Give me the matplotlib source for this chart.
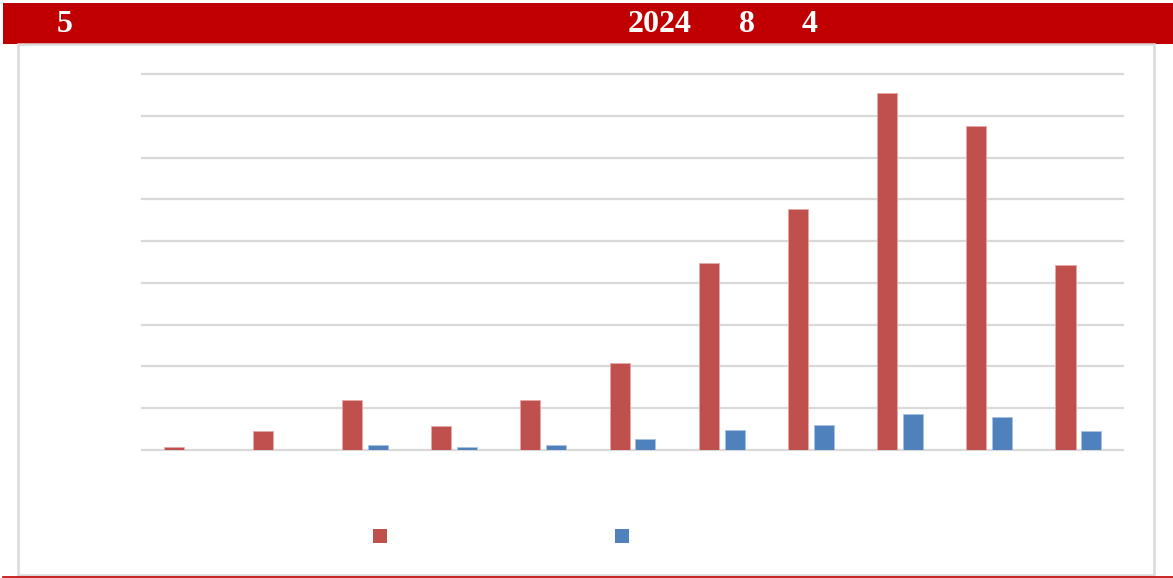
import matplotlib.pyplot as plt
import matplotlib.patches as patches
import numpy as np

# 数据
categories = list(range(1, 12))
red_values = [0.07, 0.45, 1.2, 0.57, 1.2, 2.08, 4.47, 5.77, 8.54, 7.75, 4.43]
blue_values = [0.0, 0.0, 0.12, 0.07, 0.12, 0.26, 0.48, 0.6, 0.86, 0.79, 0.45]
title_parts = ['5', '2024', '8', '4']
title_x = [65, 660, 747, 810]  # 像素位置

W, H = 1173, 578
fig = plt.figure(figsize=(W / 100, H / 100), dpi=100)
fig.patch.set_facecolor('white')

def px(x, y):
    return x / W, 1 - y / H

# 顶部红色标题栏
x0, y0 = px(3, 44)
fig.patches.append(patches.Rectangle((x0, y0), 1 - x0, 41 / H, transform=fig.transFigure,
                                     facecolor='#C00000', edgecolor='none', zorder=0))
for t, x in zip(title_parts, title_x):
    fig.text(x / W, 1 - 25 / H, t, color='white', fontsize=23, fontweight='bold',
             family='Liberation Serif', ha='center', va='center')

# 图表外框
bx, by = px(18, 575)
fig.patches.append(patches.Rectangle((bx, by), (1154 - 18) / W, (575 - 44) / H,
                                     transform=fig.transFigure, facecolor='none',
                                     edgecolor='#D9D9D9', linewidth=1.8, zorder=1))
# 底部红线
fig.lines.append(plt.Line2D([3 / W, 1], [1 - 577 / H] * 2, transform=fig.transFigure,
                            color='#C00000', linewidth=1.2))

# 柱状图
ax = fig.add_axes([142 / W, (H - 450) / H, 981 / W, 376 / H])
x = np.arange(len(categories))
w = 0.225
ax.bar(x - 0.145, red_values, w, color='#C0504D', edgecolor='#E6A9A7', linewidth=0.6, zorder=3)
ax.bar(x + 0.145, blue_values, w, color='#4F81BD', edgecolor='#A9C1E0', linewidth=0.6, zorder=3)
ax.set_xlim(-0.5, len(categories) - 0.5)
ax.set_ylim(0, 9)
ax.set_yticks(np.arange(0, 10, 1))
ax.yaxis.grid(True, color='#D9D9D9', linewidth=1.6, zorder=0)
for gl in ax.get_ygridlines():
    gl.set_clip_on(False)
ax.set_axisbelow(True)
ax.tick_params(left=False, bottom=False, labelleft=False, labelbottom=False)
for s in ax.spines.values():
    s.set_visible(False)
ax.patch.set_alpha(0)

# 图例色块
for xx, c in [(373, '#C0504D'), (615, '#4F81BD')]:
    lx, ly = px(xx, 543)
    fig.patches.append(patches.Rectangle((lx, ly), 14 / W, 14 / H, transform=fig.transFigure,
                                         facecolor=c, edgecolor='none'))

fig.savefig('out.png', dpi=100)
